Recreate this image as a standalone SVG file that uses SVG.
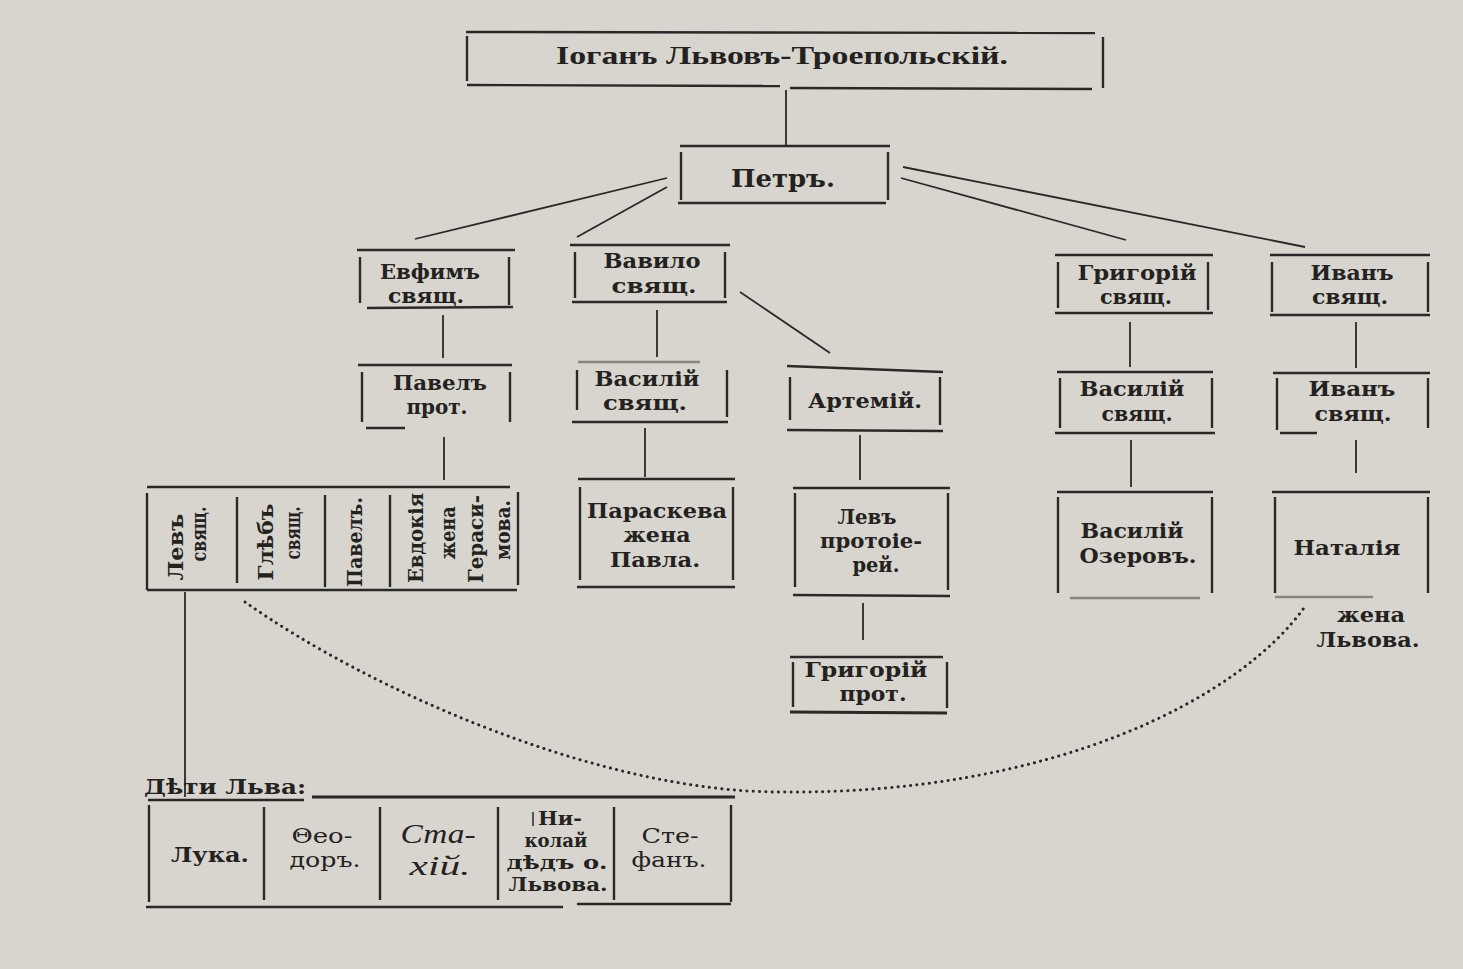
<svg xmlns="http://www.w3.org/2000/svg" width="1463" height="969" viewBox="0 0 1463 969">
<style>
.bg{fill:#d7d5ce}
.b line{stroke:#2a2927;stroke-width:2.4;stroke-linecap:butt}
.c line{stroke:#2a2927;stroke-width:1.8}
.dot{fill:none;stroke:#2a2927;stroke-width:3;stroke-linecap:round;stroke-dasharray:0.1 6.2}
text{font-family:"DejaVu Serif","Liberation Serif",serif;font-weight:bold;font-size:20px;fill:#232220;text-anchor:middle}
.title{font-family:"Liberation Serif",serif;font-size:26px}
.big{font-size:24px}
.rot{font-size:20px}
.reg{font-weight:normal;font-size:20px}
.sm{font-size:18px}
.it{font-family:"Liberation Serif",serif;font-style:italic;font-weight:normal;font-size:28px}
.faint{opacity:.45}
</style>
<rect class="bg" x="0" y="0" width="1463" height="969"/>

<g id="connectors" class="c">
<line x1="786" y1="90" x2="786" y2="147"/>
<line x1="667" y1="178" x2="415" y2="239"/>
<line x1="667" y1="187" x2="577" y2="237"/>
<line x1="903" y1="167" x2="1305" y2="247"/>
<line x1="901" y1="178" x2="1126" y2="240"/>
<line x1="443" y1="315" x2="443" y2="358"/>
<line x1="444" y1="437" x2="444" y2="480"/>
<line x1="657" y1="310" x2="657" y2="357"/>
<line x1="740" y1="292" x2="830" y2="353"/>
<line x1="645" y1="428" x2="645" y2="477"/>
<line x1="860" y1="435" x2="860" y2="480"/>
<line x1="863" y1="603" x2="863" y2="640"/>
<line x1="1130" y1="322" x2="1130" y2="367"/>
<line x1="1356" y1="322" x2="1356" y2="368"/>
<line x1="1131" y1="440" x2="1131" y2="487"/>
<line x1="1356" y1="440" x2="1356" y2="473"/>
<line x1="185" y1="592" x2="185" y2="797"/>
<path class="dot" d="M245,602 C370,690 600,792 780,792 C1050,795 1240,700 1306,605"/>
</g>

<g id="n_iogan" class="b">
<line x1="466" y1="32" x2="1095" y2="33"/>
<line x1="467" y1="36" x2="467" y2="81"/>
<line x1="1103" y1="37" x2="1103" y2="88"/>
<line x1="467" y1="85" x2="780" y2="86"/>
<line x1="790" y1="88" x2="1092" y2="89"/>
<text class="title" x="782" y="64" textLength="452" lengthAdjust="spacingAndGlyphs">Іоганъ Львовъ-Троепольскій.</text>
</g>

<g id="n_petr" class="b">
<line x1="680" y1="146" x2="890" y2="146"/>
<line x1="681" y1="152" x2="681" y2="200"/>
<line x1="888" y1="152" x2="888" y2="200"/>
<line x1="678" y1="203" x2="886" y2="203"/>
<text class="big" x="783" y="187" textLength="104" lengthAdjust="spacingAndGlyphs">Петръ.</text>
</g>

<g id="n_evfim" class="b">
<line x1="357" y1="250" x2="515" y2="250"/>
<line x1="360" y1="257" x2="360" y2="303"/>
<line x1="509" y1="257" x2="509" y2="305"/>
<line x1="367" y1="308" x2="513" y2="307"/>
<text x="430" y="279" textLength="100" lengthAdjust="spacingAndGlyphs">Евфимъ</text>
<text x="426" y="303" textLength="76" lengthAdjust="spacingAndGlyphs">свящ.</text>
</g>

<g id="n_pavel" class="b">
<line x1="358" y1="365" x2="512" y2="365"/>
<line x1="362" y1="372" x2="362" y2="422"/>
<line x1="510" y1="372" x2="510" y2="422"/>
<line x1="366" y1="428" x2="405" y2="428"/>
<text x="440" y="390" textLength="94" lengthAdjust="spacingAndGlyphs">Павелъ</text>
<text x="437" y="414" textLength="61" lengthAdjust="spacingAndGlyphs">прот.</text>
</g>

<g id="n_pavel_children" class="b">
<line x1="147" y1="487" x2="510" y2="487"/>
<line x1="147" y1="493" x2="147" y2="590"/>
<line x1="237" y1="497" x2="237" y2="583"/>
<line x1="325" y1="495" x2="325" y2="587"/>
<line x1="390" y1="495" x2="390" y2="587"/>
<line x1="518" y1="492" x2="518" y2="585"/>
<line x1="147" y1="590" x2="517" y2="590"/>
<text class="rot" transform="translate(183,547) rotate(-90)" textLength="67" lengthAdjust="spacingAndGlyphs">Левъ</text>
<text class="rot" transform="translate(206,534) rotate(-90)" textLength="55" lengthAdjust="spacingAndGlyphs">свящ.</text>
<text class="rot" transform="translate(273,542) rotate(-90)" textLength="77" lengthAdjust="spacingAndGlyphs">Глѣбъ</text>
<text class="rot" transform="translate(300,533) rotate(-90)" textLength="53" lengthAdjust="spacingAndGlyphs">свящ.</text>
<text class="rot" transform="translate(362,542) rotate(-90)" textLength="90" lengthAdjust="spacingAndGlyphs">Павелъ.</text>
<text class="rot" transform="translate(423,538) rotate(-90)" textLength="90" lengthAdjust="spacingAndGlyphs">Евдокія</text>
<text class="rot" transform="translate(455,533) rotate(-90)" textLength="53" lengthAdjust="spacingAndGlyphs">жена</text>
<text class="rot" transform="translate(483,539) rotate(-90)" textLength="88" lengthAdjust="spacingAndGlyphs">Гераси-</text>
<text class="rot" transform="translate(510,530) rotate(-90)" textLength="60" lengthAdjust="spacingAndGlyphs">мова.</text>
</g>

<g id="n_vavilo" class="b">
<line x1="570" y1="245" x2="730" y2="245"/>
<line x1="575" y1="252" x2="575" y2="298"/>
<line x1="725" y1="252" x2="725" y2="298"/>
<line x1="572" y1="302" x2="727" y2="302"/>
<text x="652" y="268" textLength="97" lengthAdjust="spacingAndGlyphs">Вавило</text>
<text x="654" y="293" textLength="85" lengthAdjust="spacingAndGlyphs">свящ.</text>
</g>

<g id="n_vasily1" class="b">
<line class="faint" x1="578" y1="362" x2="700" y2="362"/>
<line x1="577" y1="370" x2="577" y2="410"/>
<line x1="727" y1="370" x2="727" y2="417"/>
<line x1="572" y1="422" x2="728" y2="422"/>
<text x="647" y="386" textLength="105" lengthAdjust="spacingAndGlyphs">Василій</text>
<text x="645" y="410" textLength="84" lengthAdjust="spacingAndGlyphs">свящ.</text>
</g>

<g id="n_paraskeva" class="b">
<line x1="578" y1="479" x2="735" y2="479"/>
<line x1="580" y1="487" x2="580" y2="580"/>
<line x1="733" y1="487" x2="733" y2="580"/>
<line x1="577" y1="587" x2="735" y2="587"/>
<text x="657" y="518" textLength="140" lengthAdjust="spacingAndGlyphs">Параскева</text>
<text x="657" y="542" textLength="67" lengthAdjust="spacingAndGlyphs">жена</text>
<text x="655" y="567" textLength="90" lengthAdjust="spacingAndGlyphs">Павла.</text>
</g>

<g id="n_artemy" class="b">
<line x1="787" y1="366" x2="943" y2="372"/>
<line x1="790" y1="377" x2="790" y2="420"/>
<line x1="940" y1="377" x2="940" y2="425"/>
<line x1="787" y1="430" x2="943" y2="431"/>
<text x="865" y="408" textLength="114" lengthAdjust="spacingAndGlyphs">Артемій.</text>
</g>

<g id="n_lev_prot" class="b">
<line x1="793" y1="488" x2="950" y2="488"/>
<line x1="795" y1="493" x2="795" y2="587"/>
<line x1="948" y1="493" x2="948" y2="590"/>
<line x1="793" y1="595" x2="950" y2="596"/>
<text x="867" y="524" textLength="59" lengthAdjust="spacingAndGlyphs">Левъ</text>
<text x="871" y="548" textLength="102" lengthAdjust="spacingAndGlyphs">протоіе-</text>
<text x="876" y="572" textLength="47" lengthAdjust="spacingAndGlyphs">рей.</text>
</g>

<g id="n_grigory_prot" class="b">
<line x1="790" y1="657" x2="943" y2="657"/>
<line x1="793" y1="662" x2="793" y2="707"/>
<line x1="947" y1="662" x2="947" y2="708"/>
<line x1="790" y1="712" x2="947" y2="713" style="stroke-width:3.2"/>
<text x="866" y="677" textLength="123" lengthAdjust="spacingAndGlyphs">Григорій</text>
<text x="873" y="701" textLength="67" lengthAdjust="spacingAndGlyphs">прот.</text>
</g>

<g id="n_grigory1" class="b">
<line x1="1055" y1="255" x2="1213" y2="255"/>
<line x1="1058" y1="262" x2="1058" y2="308"/>
<line x1="1208" y1="262" x2="1208" y2="310"/>
<line x1="1055" y1="313" x2="1213" y2="313"/>
<text x="1137" y="280" textLength="119" lengthAdjust="spacingAndGlyphs">Григорій</text>
<text x="1136" y="304" textLength="72" lengthAdjust="spacingAndGlyphs">свящ.</text>
</g>

<g id="n_ivan1" class="b">
<line x1="1270" y1="255" x2="1430" y2="255"/>
<line x1="1272" y1="262" x2="1272" y2="312"/>
<line x1="1428" y1="262" x2="1428" y2="312"/>
<line x1="1270" y1="315" x2="1430" y2="315"/>
<text x="1352" y="280" textLength="83" lengthAdjust="spacingAndGlyphs">Иванъ</text>
<text x="1350" y="304" textLength="76" lengthAdjust="spacingAndGlyphs">свящ.</text>
</g>

<g id="n_vasily2" class="b">
<line x1="1057" y1="372" x2="1213" y2="372"/>
<line x1="1060" y1="378" x2="1060" y2="428"/>
<line x1="1212" y1="378" x2="1212" y2="428"/>
<line x1="1055" y1="433" x2="1215" y2="433"/>
<text x="1132" y="396" textLength="105" lengthAdjust="spacingAndGlyphs">Василій</text>
<text x="1137" y="421" textLength="71" lengthAdjust="spacingAndGlyphs">свящ.</text>
</g>

<g id="n_ivan2" class="b">
<line x1="1273" y1="373" x2="1430" y2="373"/>
<line x1="1277" y1="378" x2="1277" y2="430"/>
<line x1="1428" y1="378" x2="1428" y2="428"/>
<line x1="1280" y1="433" x2="1317" y2="433"/>
<text x="1352" y="396" textLength="87" lengthAdjust="spacingAndGlyphs">Иванъ</text>
<text x="1353" y="421" textLength="77" lengthAdjust="spacingAndGlyphs">свящ.</text>
</g>

<g id="n_vasily_ozerov" class="b">
<line x1="1057" y1="492" x2="1213" y2="492"/>
<line x1="1058" y1="497" x2="1058" y2="593"/>
<line x1="1212" y1="497" x2="1212" y2="593"/>
<line class="faint" x1="1070" y1="598" x2="1200" y2="598"/>
<text x="1132" y="538" textLength="103" lengthAdjust="spacingAndGlyphs">Василій</text>
<text x="1138" y="563" textLength="117" lengthAdjust="spacingAndGlyphs">Озеровъ.</text>
</g>

<g id="n_natalia" class="b">
<line x1="1272" y1="492" x2="1430" y2="492"/>
<line x1="1275" y1="497" x2="1275" y2="593"/>
<line x1="1428" y1="497" x2="1428" y2="593"/>
<line class="faint" x1="1275" y1="597" x2="1373" y2="597"/>
<text x="1347" y="555" textLength="107" lengthAdjust="spacingAndGlyphs">Наталія</text>
<text x="1371" y="622" textLength="68" lengthAdjust="spacingAndGlyphs">жена</text>
<text x="1368" y="647" textLength="103" lengthAdjust="spacingAndGlyphs">Львова.</text>
</g>

<g id="n_children_lev" class="b">
<text x="225" y="794" textLength="162" lengthAdjust="spacingAndGlyphs">Дѣти Льва:</text>
<line x1="148" y1="800" x2="304" y2="800"/>
<line x1="312" y1="797" x2="735" y2="797" style="stroke-width:3"/>
<line x1="149" y1="805" x2="149" y2="902"/>
<line x1="264" y1="807" x2="264" y2="900"/>
<line x1="380" y1="807" x2="380" y2="900"/>
<line x1="498" y1="807" x2="498" y2="900"/>
<line x1="614" y1="807" x2="614" y2="900"/>
<line x1="731" y1="805" x2="731" y2="902"/>
<line x1="146" y1="907" x2="563" y2="907"/>
<line x1="577" y1="904" x2="731" y2="904"/>
<line x1="533" y1="812" x2="533" y2="826" style="stroke-width:1.5"/>
<text x="210" y="862" textLength="78" lengthAdjust="spacingAndGlyphs">Лука.</text>
<text class="reg" x="322" y="843" textLength="61" lengthAdjust="spacingAndGlyphs">Θео-</text>
<text class="reg" x="325" y="867" textLength="71" lengthAdjust="spacingAndGlyphs">доръ.</text>
<text class="it" x="438" y="843" textLength="75" lengthAdjust="spacingAndGlyphs">Ста-</text>
<text class="it" x="440" y="875" textLength="61" lengthAdjust="spacingAndGlyphs">хій.</text>
<text class="sm" x="560" y="825" textLength="44" lengthAdjust="spacingAndGlyphs">Ни-</text>
<text class="sm" x="556" y="847" textLength="63" lengthAdjust="spacingAndGlyphs">колай</text>
<text class="sm" x="557" y="869" textLength="101" lengthAdjust="spacingAndGlyphs">дѣдъ о.</text>
<text class="sm" x="558" y="891" textLength="99" lengthAdjust="spacingAndGlyphs">Львова.</text>
<text class="reg" x="670" y="843" textLength="57" lengthAdjust="spacingAndGlyphs">Сте-</text>
<text class="reg" x="669" y="867" textLength="75" lengthAdjust="spacingAndGlyphs">фанъ.</text>
</g>
</svg>
